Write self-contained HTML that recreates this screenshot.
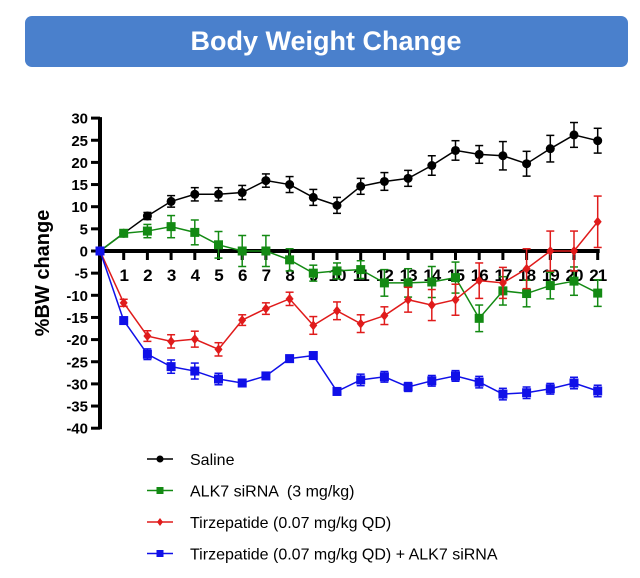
<!DOCTYPE html>
<html><head><meta charset="utf-8"><style>
body{margin:0;background:#fff;width:640px;height:573px;overflow:hidden;font-family:"Liberation Sans",sans-serif}
</style></head><body>
<svg width="640" height="573" xmlns="http://www.w3.org/2000/svg">
<rect x="25" y="16" width="603" height="51" rx="7" fill="#4a80cc"/>
<text x="326" y="50" text-anchor="middle" font-size="27" font-weight="bold" fill="#fff" font-family="Liberation Sans, sans-serif">Body Weight Change</text>
<text transform="translate(49,273) rotate(-90)" text-anchor="middle" font-size="20" font-weight="bold">%BW change</text>
<g id="axes"></g>
<g id="series"></g>
<g id="legend"></g>
</svg>
<script>
const days=[0,1,2,3,4,5,6,7,8,9,10,11,12,13,14,15,16,17,18,19,20,21];
const yTicks=[30,25,20,15,10,5,0,-5,-10,-15,-20,-25,-30,-35,-40];
const saline=[0,4,7.9,11.2,12.8,12.8,13.2,15.9,15,12.1,10.3,14.6,15.7,16.4,19.3,22.7,21.8,21.5,19.7,23.1,26.2,24.9];
const salineErr=[0,0.6,0.8,1.3,1.5,1.5,1.6,1.5,1.8,1.8,1.8,1.8,2,1.8,2.2,2.2,2,3.2,2.8,3,2.8,2.8];
const alk7=[0,4,4.5,5.5,4.2,1.4,0,0,-2,-5,-4.5,-4.2,-7.2,-7.2,-7,-6,-15.2,-9,-9.6,-7.8,-6.8,-9.5];
const alk7Err=[0,0.6,1.5,2.5,2.8,3,3.5,3.5,2.5,1.8,1.8,2,3,3.2,3.5,3.5,3,3.2,3,3,3.2,3];
const tirz=[0,-11.7,-19.2,-20.4,-19.9,-22.2,-15.6,-13,-10.8,-16.8,-13.5,-16.4,-14.6,-11,-12.2,-11,-6.7,-7.2,-4,0,0,6.6];
const tirzErr=[0,0.8,1.2,1.5,1.8,1.5,1.2,1.3,1.5,2,2,2,2,2.8,3.5,3.5,4,3.5,4.5,4.5,4.5,5.8];
const combo=[0,-15.7,-23.3,-26.1,-27.1,-28.9,-29.8,-28.2,-24.3,-23.6,-31.7,-29.1,-28.4,-30.7,-29.3,-28.2,-29.6,-32.3,-32,-31.1,-29.8,-31.6];
const comboErr=[0,0.5,1.2,1.5,1.8,1.3,0.8,0.8,0.8,0.8,0.8,1.3,1.2,1,1.2,1.2,1.3,1.3,1.3,1.2,1.3,1.3];
const NS='http://www.w3.org/2000/svg';
const X=d=>100+d*23.7;
const Y=v=>251-v*4.43;
function mk(t,a,p){const e=document.createElementNS(NS,t);for(const k in a)e.setAttribute(k,a[k]);p.appendChild(e);return e;}
const ax=document.getElementById('axes');
let yl=mk('line',{x1:100,y1:Y(30)-1,x2:100,y2:Y(-40)+1,stroke:'#000','stroke-width':4},ax);


yTicks.forEach(v=>{
 mk('line',{x1:91,y1:Y(v),x2:100,y2:Y(v),stroke:'#000','stroke-width':3},ax);
 const t=mk('text',{x:88,y:Y(v)+5.5,'text-anchor':'end','font-size':15,'font-weight':'bold'},ax);
 t.textContent=v;
 
 
});
let xl=mk('line',{x1:100,y1:Y(0),x2:X(21)+2,y2:Y(0),stroke:'#000','stroke-width':4},ax);


days.slice(1).forEach(d=>{
 mk('line',{x1:X(d),y1:Y(0),x2:X(d),y2:Y(0)+9,stroke:'#000','stroke-width':3},ax);
 const t=mk('text',{x:X(d),y:Y(0)+30,'text-anchor':'middle','font-size':17,'font-weight':'bold','letter-spacing':'-1'},ax);
 t.textContent=d;
 
 
});
const sg=document.getElementById('series');
function series(vals,errs,color,shape,name){
 const g=mk('g',{},sg);
 
 
 vals.forEach((v,i)=>{ if(errs[i]>0){
  mk('line',{x1:X(i),y1:Y(v+errs[i]),x2:X(i),y2:Y(v-errs[i]),stroke:color,'stroke-width':1.5},g);
  mk('line',{x1:X(i)-4,y1:Y(v+errs[i]),x2:X(i)+4,y2:Y(v+errs[i]),stroke:color,'stroke-width':1.5},g);
  mk('line',{x1:X(i)-4,y1:Y(v-errs[i]),x2:X(i)+4,y2:Y(v-errs[i]),stroke:color,'stroke-width':1.5},g);}});
 mk('polyline',{points:vals.map((v,i)=>X(i)+','+Y(v)).join(' '),fill:'none',stroke:color,'stroke-width':1.5},g);
 vals.forEach((v,i)=>{
  let m;
  if(shape==='c') m=mk('circle',{cx:X(i),cy:Y(v),r:4.5,fill:color},g);
  else if(shape==='s') m=mk('rect',{x:X(i)-4.5,y:Y(v)-4.5,width:9,height:9,fill:color},g);
  else m=mk('polygon',{points:`${X(i)},${Y(v)-5} ${X(i)+4},${Y(v)} ${X(i)},${Y(v)+5} ${X(i)-4},${Y(v)}`,fill:color},g);
  
  
 });
}
series(saline,salineErr,'#000','c','saline-series');
series(alk7,alk7Err,'#138a13','s','alk7-series');
series(tirz,tirzErr,'#e01b1b','d','tirzepatide-series');
series(combo,comboErr,'#1010e8','s','combo-series');
const lg=document.getElementById('legend');
const labels=['Saline','ALK7 siRNA  (3 mg/kg)','Tirzepatide (0.07 mg/kg QD)','Tirzepatide (0.07 mg/kg QD) + ALK7 siRNA'];
const lcolors=['#000','#138a13','#e01b1b','#1010e8'];
const lshapes=['c','s','d','s'];
labels.forEach((l,i)=>{
 const y=459+i*31.5;
 const g=mk('g',{},lg);
 
 
 mk('line',{x1:147,y1:y,x2:173,y2:y,stroke:lcolors[i],'stroke-width':1.5},g);
 if(lshapes[i]==='c') mk('circle',{cx:160,cy:y,r:3.5,fill:lcolors[i]},g);
 else if(lshapes[i]==='s') mk('rect',{x:156.5,y:y-3.5,width:7,height:7,fill:lcolors[i]},g);
 else mk('polygon',{points:`160,${y-4} 163,${y} 160,${y+4} 157,${y}`,fill:lcolors[i]},g);
 const t=mk('text',{x:190,y:y+6,'font-size':16,'xml:space':'preserve',style:'white-space:pre'},g);
 t.textContent=l;
});
</script>
</body></html>
